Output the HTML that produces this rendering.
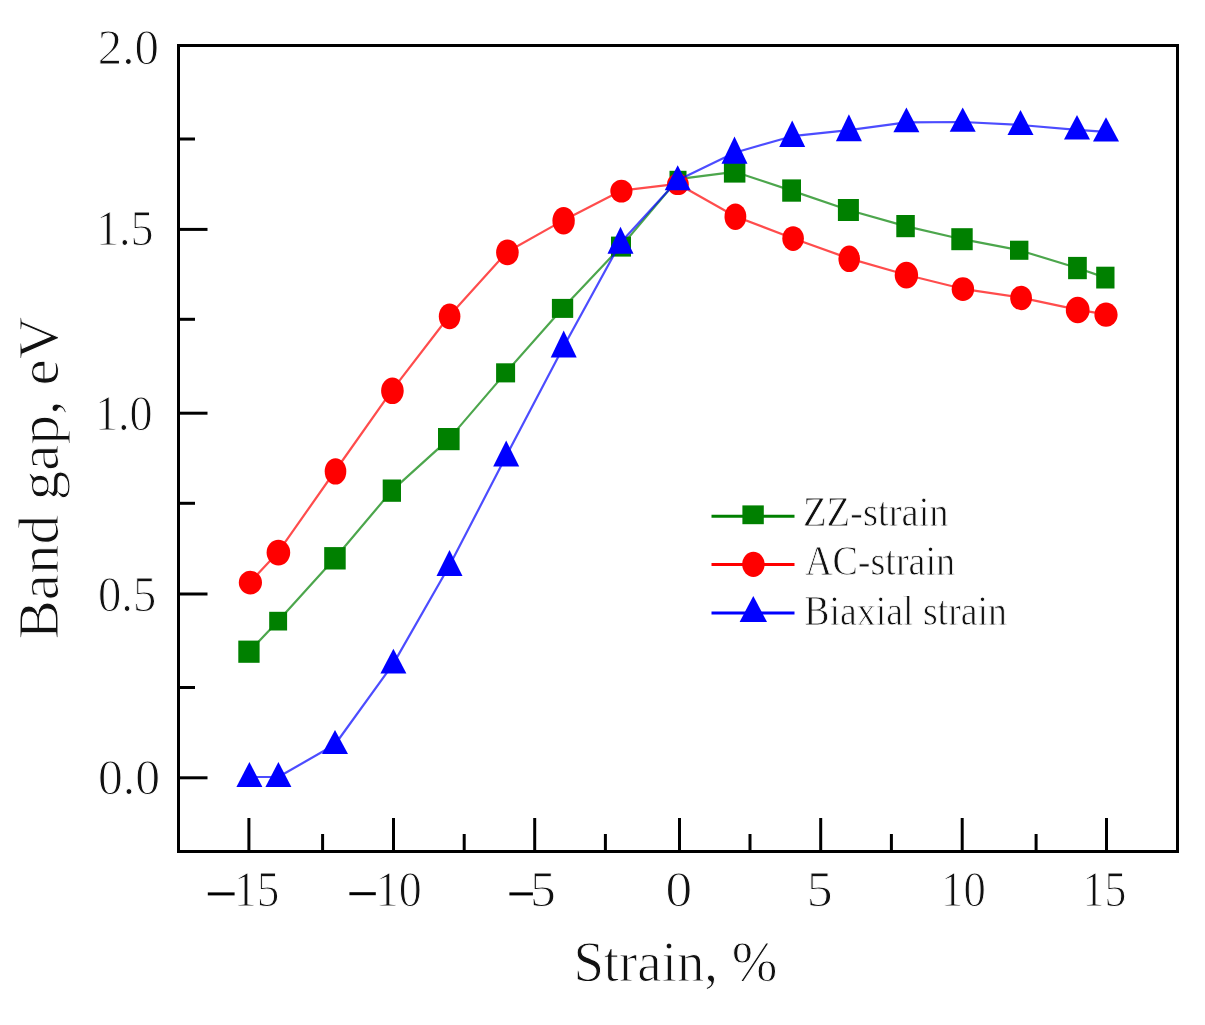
<!DOCTYPE html>
<html><head><meta charset="utf-8"><style>
html,body{margin:0;padding:0;background:#fff;width:1205px;height:1025px;overflow:hidden}
svg{display:block;filter:blur(0.45px)}
text{font-family:"Liberation Serif",serif;stroke:#fff;paint-order:fill stroke}
</style></head><body>
<svg width="1205" height="1025" viewBox="0 0 1205 1025"><line x1="178.5" y1="45.5" x2="207.5" y2="45.5" stroke="#000" stroke-width="3"/>
<line x1="178.5" y1="229.4" x2="207.5" y2="229.4" stroke="#000" stroke-width="3"/>
<line x1="178.5" y1="413.2" x2="207.5" y2="413.2" stroke="#000" stroke-width="3"/>
<line x1="178.5" y1="594.0" x2="207.5" y2="594.0" stroke="#000" stroke-width="3"/>
<line x1="178.5" y1="777.8" x2="207.5" y2="777.8" stroke="#000" stroke-width="3"/>
<line x1="178.5" y1="139.0" x2="195" y2="139.0" stroke="#000" stroke-width="3"/>
<line x1="178.5" y1="319.3" x2="195" y2="319.3" stroke="#000" stroke-width="3"/>
<line x1="178.5" y1="503.3" x2="195" y2="503.3" stroke="#000" stroke-width="3"/>
<line x1="178.5" y1="687.5" x2="195" y2="687.5" stroke="#000" stroke-width="3"/>
<line x1="248.9" y1="818" x2="248.9" y2="851.5" stroke="#000" stroke-width="3"/>
<line x1="393.5" y1="818" x2="393.5" y2="851.5" stroke="#000" stroke-width="3"/>
<line x1="534.7" y1="818" x2="534.7" y2="851.5" stroke="#000" stroke-width="3"/>
<line x1="679.5" y1="818" x2="679.5" y2="851.5" stroke="#000" stroke-width="3"/>
<line x1="820.7" y1="818" x2="820.7" y2="851.5" stroke="#000" stroke-width="3"/>
<line x1="962.2" y1="818" x2="962.2" y2="851.5" stroke="#000" stroke-width="3"/>
<line x1="1106.5" y1="818" x2="1106.5" y2="851.5" stroke="#000" stroke-width="3"/>
<line x1="322.6" y1="834" x2="322.6" y2="851.5" stroke="#000" stroke-width="3"/>
<line x1="464.2" y1="834" x2="464.2" y2="851.5" stroke="#000" stroke-width="3"/>
<line x1="605.4" y1="834" x2="605.4" y2="851.5" stroke="#000" stroke-width="3"/>
<line x1="750.0" y1="834" x2="750.0" y2="851.5" stroke="#000" stroke-width="3"/>
<line x1="891.4" y1="834" x2="891.4" y2="851.5" stroke="#000" stroke-width="3"/>
<line x1="1036.1" y1="834" x2="1036.1" y2="851.5" stroke="#000" stroke-width="3"/>
<rect x="178.5" y="45.5" width="999.0" height="806.0" fill="none" stroke="#000" stroke-width="3"/>
<polyline points="249.0,651.7 278.1,621.1 334.9,558.3 391.9,490.6 448.8,439.1 505.6,372.9 562.5,308.4 621.0,246.6 678.0,179.2 734.6,171.8 791.6,190.6 848.4,210.0 905.5,226.1 962.0,239.2 1019.2,250.2 1077.4,268.0 1105.3,277.6" fill="none" stroke="#008000" stroke-width="2.2" stroke-opacity="0.7" stroke-linejoin="round"/>
<rect x="238.3" y="640.6" width="21.3" height="22.2" fill="#008000"/>
<rect x="269.2" y="611.8" width="17.9" height="18.7" fill="#008000"/>
<rect x="324.2" y="547.1" width="21.5" height="22.4" fill="#008000"/>
<rect x="382.7" y="479.5" width="18.3" height="22.3" fill="#008000"/>
<rect x="438.0" y="428.0" width="21.6" height="22.2" fill="#008000"/>
<rect x="496.1" y="363.3" width="19.0" height="19.1" fill="#008000"/>
<rect x="551.9" y="298.9" width="21.3" height="19.0" fill="#008000"/>
<rect x="611.0" y="236.6" width="20.0" height="20.0" fill="#008000"/>
<rect x="669.5" y="170.8" width="17.0" height="16.7" fill="#008000"/>
<rect x="723.9" y="161.0" width="21.5" height="21.6" fill="#008000"/>
<rect x="782.2" y="179.4" width="18.8" height="22.3" fill="#008000"/>
<rect x="837.9" y="199.0" width="21.0" height="22.0" fill="#008000"/>
<rect x="896.3" y="215.0" width="18.5" height="22.2" fill="#008000"/>
<rect x="951.3" y="228.2" width="21.4" height="22.0" fill="#008000"/>
<rect x="1010.0" y="240.7" width="18.4" height="19.1" fill="#008000"/>
<rect x="1068.1" y="256.9" width="18.7" height="22.3" fill="#008000"/>
<rect x="1096.2" y="266.7" width="18.3" height="21.8" fill="#008000"/>
<polyline points="250.0,582.2 278.1,552.2 335.1,471.0 392.0,390.4 449.2,316.0 507.0,252.0 563.2,220.4 621.0,190.7 677.5,183.8 735.0,216.2 792.7,238.2 848.8,258.4 906.0,274.7 962.5,288.8 1020.8,297.6 1077.2,309.6 1105.6,314.3" fill="none" stroke="#ff0000" stroke-width="2.2" stroke-opacity="0.7" stroke-linejoin="round"/>
<ellipse cx="250.4" cy="582.6" rx="11.6" ry="11.8" fill="#ff0000"/>
<ellipse cx="278.4" cy="552.6" rx="11.8" ry="12.9" fill="#ff0000"/>
<ellipse cx="335.5" cy="471.4" rx="10.8" ry="13.2" fill="#ff0000"/>
<ellipse cx="392.4" cy="390.8" rx="11.3" ry="13.3" fill="#ff0000"/>
<ellipse cx="449.6" cy="316.4" rx="10.8" ry="12.8" fill="#ff0000"/>
<ellipse cx="507.4" cy="252.4" rx="11.3" ry="12.9" fill="#ff0000"/>
<ellipse cx="563.6" cy="220.8" rx="11.2" ry="13.8" fill="#ff0000"/>
<ellipse cx="621.4" cy="191.1" rx="11.1" ry="11.4" fill="#ff0000"/>
<ellipse cx="677.9" cy="184.2" rx="10.9" ry="10.9" fill="#ff0000"/>
<ellipse cx="735.4" cy="216.7" rx="10.9" ry="13.3" fill="#ff0000"/>
<ellipse cx="793.1" cy="238.6" rx="10.8" ry="12.4" fill="#ff0000"/>
<ellipse cx="849.2" cy="258.8" rx="10.8" ry="13.2" fill="#ff0000"/>
<ellipse cx="906.4" cy="275.1" rx="11.7" ry="13.3" fill="#ff0000"/>
<ellipse cx="962.9" cy="289.2" rx="11.2" ry="11.9" fill="#ff0000"/>
<ellipse cx="1021.1" cy="298.0" rx="10.9" ry="12.2" fill="#ff0000"/>
<ellipse cx="1077.7" cy="310.0" rx="11.9" ry="13.2" fill="#ff0000"/>
<ellipse cx="1106.0" cy="314.7" rx="11.6" ry="12.1" fill="#ff0000"/>
<polyline points="249.4,777.0 278.4,777.0 335.0,744.5 393.4,663.6 449.5,565.5 506.2,456.1 563.7,346.4 620.5,242.8 677.7,180.3 734.5,152.7 792.2,136.2 848.9,130.2 906.4,122.4 962.7,122.0 1020.5,125.0 1077.0,129.8 1106.0,131.9" fill="none" stroke="#0000ff" stroke-width="2.2" stroke-opacity="0.7" stroke-linejoin="round"/>
<polygon points="249.4,762.0 262.4,787.0 236.4,787.0" fill="#0000ff"/>
<polygon points="278.4,762.0 291.4,787.0 265.4,787.0" fill="#0000ff"/>
<polygon points="335.0,730.1 348.0,754.0 322.0,754.0" fill="#0000ff"/>
<polygon points="393.4,648.8 406.4,673.4 380.4,673.4" fill="#0000ff"/>
<polygon points="449.5,550.0 462.5,576.0 436.5,576.0" fill="#0000ff"/>
<polygon points="506.2,440.5 519.2,466.6 493.2,466.6" fill="#0000ff"/>
<polygon points="563.7,330.4 576.7,357.4 550.7,357.4" fill="#0000ff"/>
<polygon points="620.5,226.8 633.5,253.7 607.5,253.7" fill="#0000ff"/>
<polygon points="677.7,165.3 690.7,190.3 664.7,190.3" fill="#0000ff"/>
<polygon points="734.5,136.5 747.5,163.8 721.5,163.8" fill="#0000ff"/>
<polygon points="792.2,120.4 805.2,147.0 779.2,147.0" fill="#0000ff"/>
<polygon points="848.9,114.3 861.9,141.2 835.9,141.2" fill="#0000ff"/>
<polygon points="906.4,107.4 919.4,132.3 893.4,132.3" fill="#0000ff"/>
<polygon points="962.7,107.4 975.7,131.7 949.7,131.7" fill="#0000ff"/>
<polygon points="1020.5,110.1 1033.5,134.9 1007.5,134.9" fill="#0000ff"/>
<polygon points="1077.0,114.9 1090.0,139.6 1064.0,139.6" fill="#0000ff"/>
<polygon points="1106.0,117.3 1119.0,141.5 1093.0,141.5" fill="#0000ff"/>
<line x1="711.5" y1="516.2" x2="794.5" y2="516.2" stroke="#008000" stroke-width="3"/>
<rect x="742.4" y="505.4" width="21.4" height="18.8" fill="#008000"/>
<line x1="711.5" y1="564.6" x2="794.5" y2="564.6" stroke="#ff0000" stroke-width="3"/>
<ellipse cx="753.4" cy="564.3" rx="11.2" ry="12.6" fill="#ff0000"/>
<line x1="711.5" y1="613.0" x2="794.5" y2="613.0" stroke="#0000ff" stroke-width="3"/>
<polygon points="753.3,596 767,622 739.6,622" fill="#0000ff"/>
<line x1="207.8" y1="893.9" x2="234.6" y2="893.9" stroke="#000" stroke-width="3"/>
<line x1="349.40000000000003" y1="893.7" x2="375.8" y2="893.7" stroke="#000" stroke-width="3"/>
<line x1="509.40000000000003" y1="893.9" x2="532.9000000000001" y2="893.9" stroke="#000" stroke-width="3"/>
<text x="97.80" y="64.00" font-size="50.00" fill="#111" textLength="61.03" lengthAdjust="spacingAndGlyphs" stroke-width="1.0">2.0</text>
<text x="95.90" y="245.40" font-size="50.00" fill="#111" textLength="57.75" lengthAdjust="spacingAndGlyphs" stroke-width="1.0">1.5</text>
<text x="94.90" y="429.60" font-size="50.00" fill="#111" textLength="57.73" lengthAdjust="spacingAndGlyphs" stroke-width="1.0">1.0</text>
<text x="97.90" y="611.40" font-size="50.00" fill="#111" textLength="58.36" lengthAdjust="spacingAndGlyphs" stroke-width="1.0">0.5</text>
<text x="97.90" y="794.20" font-size="50.00" fill="#111" textLength="62.10" lengthAdjust="spacingAndGlyphs" stroke-width="1.0">0.0</text>
<text x="234.00" y="905.50" font-size="50.00" fill="#111" textLength="45.38" lengthAdjust="spacingAndGlyphs" stroke-width="1.0">15</text>
<text x="375.75" y="905.50" font-size="50.00" fill="#111" textLength="45.94" lengthAdjust="spacingAndGlyphs" stroke-width="1.0">10</text>
<text x="530.10" y="905.50" font-size="50.00" fill="#111" textLength="25.89" lengthAdjust="spacingAndGlyphs" stroke-width="1.0">5</text>
<text x="665.40" y="905.50" font-size="50.00" fill="#111" textLength="26.64" lengthAdjust="spacingAndGlyphs" stroke-width="1.0">0</text>
<text x="806.70" y="905.50" font-size="50.00" fill="#111" textLength="25.89" lengthAdjust="spacingAndGlyphs" stroke-width="1.0">5</text>
<text x="941.10" y="905.50" font-size="50.00" fill="#111" textLength="44.62" lengthAdjust="spacingAndGlyphs" stroke-width="1.0">10</text>
<text x="1082.60" y="905.50" font-size="50.00" fill="#111" textLength="43.85" lengthAdjust="spacingAndGlyphs" stroke-width="1.0">15</text>
<text x="802.90" y="526.00" font-size="42.00" fill="#111" textLength="145.76" lengthAdjust="spacingAndGlyphs" stroke-width="0.8">ZZ-strain</text>
<text x="804.90" y="575.20" font-size="42.00" fill="#111" textLength="150.24" lengthAdjust="spacingAndGlyphs" stroke-width="0.8">AC-strain</text>
<text x="804.20" y="624.70" font-size="42.00" fill="#111" textLength="202.76" lengthAdjust="spacingAndGlyphs" stroke-width="0.8">Biaxial strain</text>
<text x="573.40" y="981.40" font-size="57.00" fill="#111" textLength="203.96" lengthAdjust="spacingAndGlyphs" stroke-width="1.0">Strain, %</text>
<text transform="translate(58.00,639.50) rotate(-90)" x="0" y="0" font-size="57.00" fill="#111" textLength="322.89" lengthAdjust="spacingAndGlyphs" stroke-width="1.0">Band gap, eV</text></svg>
</body></html>
